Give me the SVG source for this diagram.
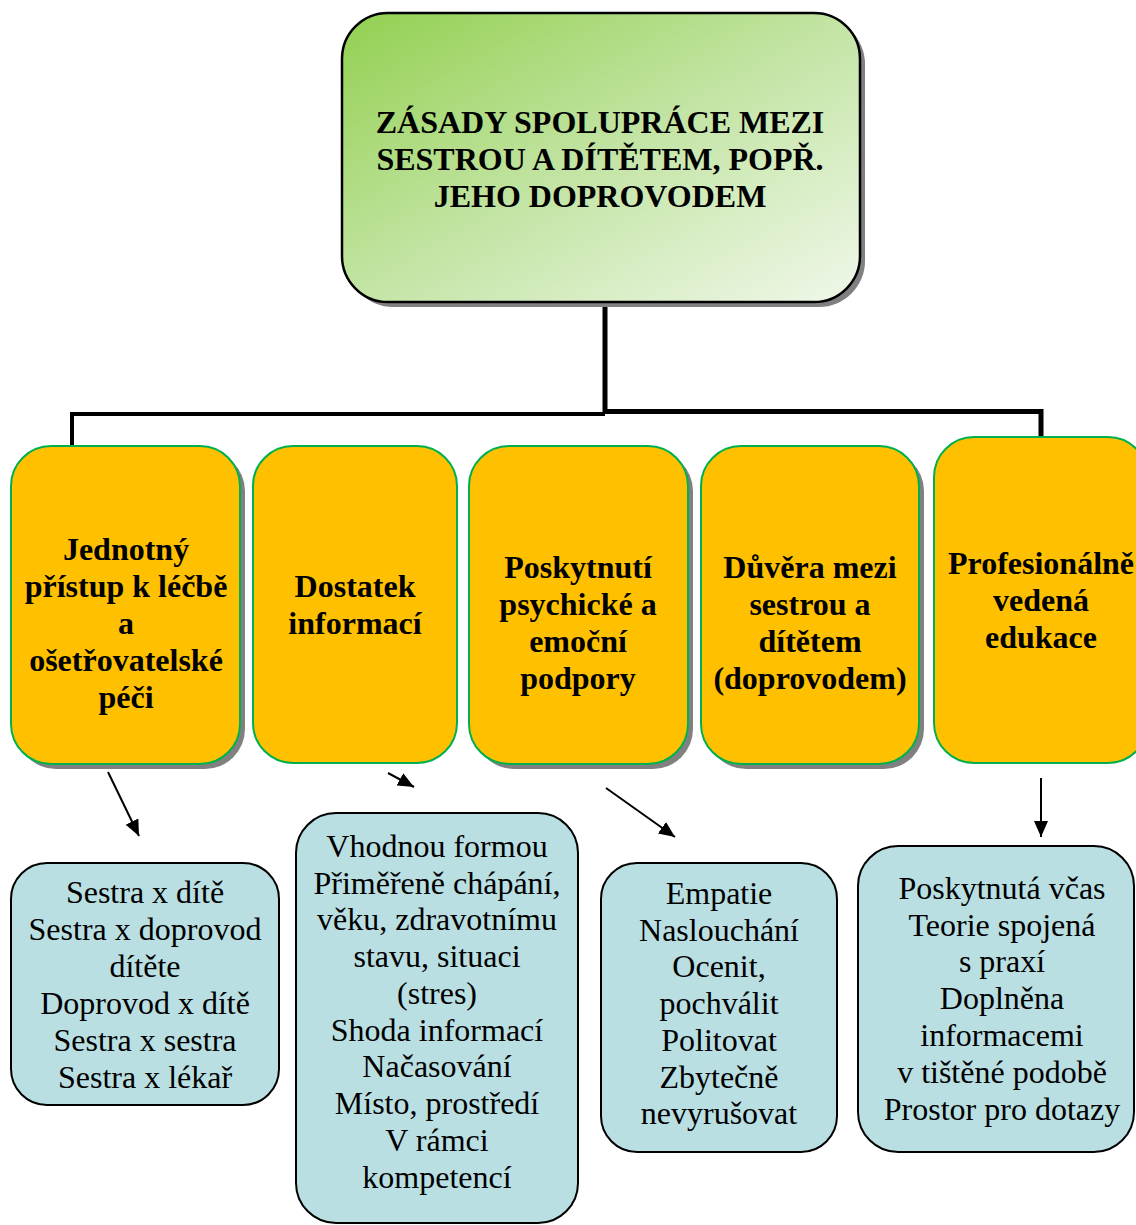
<svg xmlns="http://www.w3.org/2000/svg" width="1136" height="1225" viewBox="0 0 1136 1225" font-family="'Liberation Serif', Tinos, 'Times New Roman', 'DejaVu Serif', serif">
  <defs>
    <linearGradient id="titleFill" x1="0" y1="0" x2="1" y2="1">
      <stop offset="0" stop-color="#92D050"/>
      <stop offset="0.5" stop-color="#C3E4A4"/>
      <stop offset="1" stop-color="#F0F8EA"/>
    </linearGradient>
    <marker id="arrow" markerUnits="userSpaceOnUse" markerWidth="16" markerHeight="14" refX="16" refY="7" orient="auto">
      <path d="M0,0 L16,7 L0,14 z" fill="#000"/>
    </marker>
    <style>
      .shadow { fill: #808080; }
      .title { fill: url(#titleFill); stroke: #000; stroke-width: 2.5; }
      .topic { fill: #FFC000; stroke: #00B050; stroke-width: 2; }
      .detail { fill: #B9DFE2; stroke: #000; stroke-width: 2; }
      .label { font-family: "Liberation Serif", Tinos, "Times New Roman", "DejaVu Serif", serif; font-size: 32px; fill: #000; text-anchor: middle; }
      .bold { font-weight: bold; }
      .trunk { fill: none; stroke: #000; stroke-linejoin: miter; }
      .arrow { fill: none; stroke: #000; stroke-width: 2; marker-end: url(#arrow); }
    </style>
  </defs>

  <rect width="1136" height="1225" fill="#fff"/>

  <!-- connectors -->
  <g id="connectors">
    <path class="trunk" d="M605,302 V413" stroke-width="5"/>
    <path class="trunk" d="M605,414 H72 V447" stroke-width="4"/>
    <path class="trunk" d="M605,411.5 H1041 V437" stroke-width="5"/>
    <line class="arrow" x1="108" y1="772" x2="139" y2="836"/>
    <line class="arrow" x1="388" y1="773" x2="414" y2="787"/>
    <line class="arrow" x1="606" y1="788" x2="675" y2="837"/>
    <line class="arrow" x1="1041" y1="778" x2="1041" y2="837"/>
  </g>

  <!-- title -->
  <g id="title" class="label bold">
    <rect class="shadow" x="347" y="18" width="518" height="289" rx="46"/>
    <rect class="title" x="342" y="13" width="518" height="289" rx="46"/>
    <text x="600" y="133">ZÁSADY SPOLUPRÁCE MEZI</text>
    <text x="600" y="170">SESTROU A DÍTĚTEM, POPŘ.</text>
    <text x="600" y="207">JEHO DOPROVODEM</text>
  </g>

  <!-- topics -->
  <g id="topic-1" class="label bold">
    <rect class="shadow" x="16" y="451" width="229" height="318" rx="40"/>
    <rect class="topic" x="11" y="446" width="229" height="318" rx="40"/>
    <text x="126" y="560">Jednotný</text>
    <text x="126" y="597">přístup k léčbě</text>
    <text x="126" y="634">a</text>
    <text x="126" y="671">ošetřovatelské</text>
    <text x="126" y="708">péči</text>
  </g>

  <g id="topic-2" class="label bold">
    <rect class="topic" x="253" y="446" width="204" height="317" rx="40"/>
    <text x="355" y="597">Dostatek</text>
    <text x="355" y="634">informací</text>
  </g>

  <g id="topic-3" class="label bold">
    <rect class="shadow" x="474" y="451" width="219" height="318" rx="40"/>
    <rect class="topic" x="469" y="446" width="219" height="318" rx="40"/>
    <text x="578" y="578">Poskytnutí</text>
    <text x="578" y="615">psychické a</text>
    <text x="578" y="652">emoční</text>
    <text x="578" y="689">podpory</text>
  </g>

  <g id="topic-4" class="label bold">
    <rect class="shadow" x="706" y="451" width="218" height="318" rx="40"/>
    <rect class="topic" x="701" y="446" width="218" height="318" rx="40"/>
    <text x="810" y="578">Důvěra mezi</text>
    <text x="810" y="615">sestrou a</text>
    <text x="810" y="652">dítětem</text>
    <text x="810" y="689">(doprovodem)</text>
  </g>

  <g id="topic-5" class="label bold">
    <rect class="topic" x="934" y="437" width="214" height="326" rx="40"/>
    <text x="1041" y="574">Profesionálně</text>
    <text x="1041" y="611">vedená</text>
    <text x="1041" y="648">edukace</text>
  </g>

  <!-- details -->
  <g id="detail-1" class="label">
    <rect class="detail" x="11" y="863" width="268" height="242" rx="36"/>
    <text x="145" y="903">Sestra x dítě</text>
    <text x="145" y="940">Sestra x doprovod</text>
    <text x="145" y="977">dítěte</text>
    <text x="145" y="1014">Doprovod x dítě</text>
    <text x="145" y="1051">Sestra x sestra</text>
    <text x="145" y="1088">Sestra x lékař</text>
  </g>

  <g id="detail-2" class="label">
    <rect class="detail" x="296" y="813" width="282" height="410" rx="40"/>
    <text x="437" y="857">Vhodnou formou</text>
    <text x="437" y="894">Přiměřeně chápání,</text>
    <text x="437" y="930">věku, zdravotnímu</text>
    <text x="437" y="967">stavu, situaci</text>
    <text x="437" y="1004">(stres)</text>
    <text x="437" y="1041">Shoda informací</text>
    <text x="437" y="1077">Načasování</text>
    <text x="437" y="1114">Místo, prostředí</text>
    <text x="437" y="1151">V rámci</text>
    <text x="437" y="1188">kompetencí</text>
  </g>

  <g id="detail-3" class="label">
    <rect class="detail" x="601" y="863" width="236" height="289" rx="36"/>
    <text x="719" y="904">Empatie</text>
    <text x="719" y="941">Naslouchání</text>
    <text x="719" y="977">Ocenit,</text>
    <text x="719" y="1014">pochválit</text>
    <text x="719" y="1051">Politovat</text>
    <text x="719" y="1088">Zbytečně</text>
    <text x="719" y="1124">nevyrušovat</text>
  </g>

  <g id="detail-4" class="label">
    <rect class="detail" x="858" y="846" width="276" height="306" rx="40"/>
    <text x="1002" y="899">Poskytnutá včas</text>
    <text x="1002" y="936">Teorie spojená</text>
    <text x="1002" y="972">s praxí</text>
    <text x="1002" y="1009">Doplněna</text>
    <text x="1002" y="1046">informacemi</text>
    <text x="1002" y="1083">v tištěné podobě</text>
    <text x="1002" y="1120">Prostor pro dotazy</text>
  </g>
</svg>
